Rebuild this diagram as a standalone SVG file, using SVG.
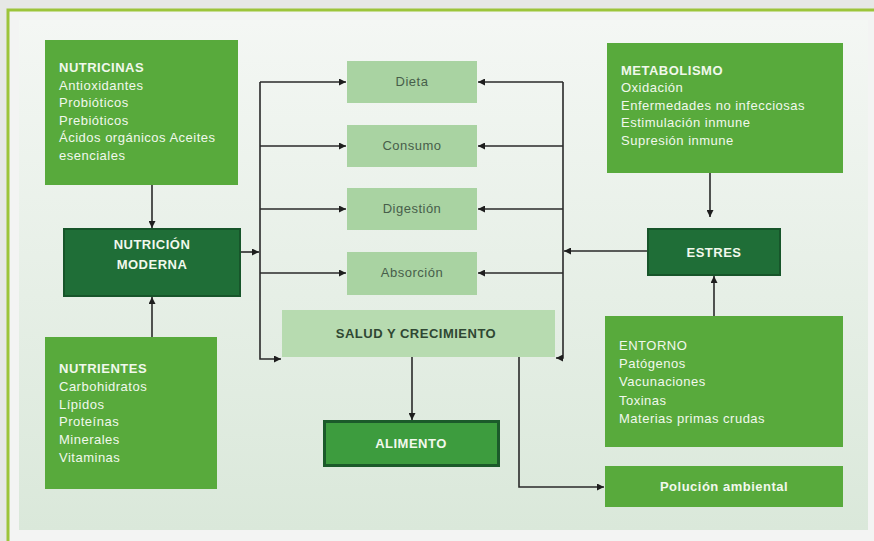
<svg xmlns="http://www.w3.org/2000/svg" width="874" height="541" viewBox="0 0 874 541">
<defs>
<linearGradient id="panel" x1="0" y1="0" x2="0" y2="1">
<stop offset="0" stop-color="#f4f7f4"/>
<stop offset="1" stop-color="#dae8da"/>
</linearGradient>
<marker id="ah" viewBox="0 0 10 10" refX="10" refY="5" markerWidth="7" markerHeight="7" markerUnits="userSpaceOnUse" orient="auto">
<path d="M0,0 L10,5 L0,10 z" fill="#1e1e1e"/>
</marker>
<style>
.g{fill:#58aa3c}
.dk{fill:#1f6e37;stroke:#17552a;stroke-width:2}
.lt{fill:#a9d3a2}
.t{font-family:"Liberation Sans",Arial,sans-serif;font-size:13px;letter-spacing:0.5px}
.w{fill:#f1f8ec}
.b{font-weight:bold}
.m{fill:#475e4a;text-anchor:middle}
.c{text-anchor:middle}
.ln{fill:none;stroke:#2a2a2a;stroke-width:1.6}
</style>
</defs>
<rect x="0" y="0" width="874" height="541" fill="#f3f4f3"/>
<rect x="0" y="0" width="874" height="9" fill="#e6e8e6"/>
<rect x="0" y="0" width="8" height="541" fill="#e6e8e6"/>
<path d="M8,541 V10 H874" fill="none" stroke="#9cc43a" stroke-width="3"/>
<rect x="19" y="20" width="849" height="510" fill="url(#panel)"/>

<g id="connectors">
<line class="ln" x1="152" y1="185" x2="152" y2="228" marker-end="url(#ah)"/>
<line class="ln" x1="152" y1="337" x2="152" y2="297" marker-end="url(#ah)"/>
<line class="ln" x1="240" y1="252" x2="259" y2="252" marker-end="url(#ah)"/>
<polyline class="ln" points="260,82 260,359 281,359" marker-end="url(#ah)"/>
<line class="ln" x1="260" y1="82" x2="346" y2="82" marker-end="url(#ah)"/>
<line class="ln" x1="260" y1="146" x2="346" y2="146" marker-end="url(#ah)"/>
<line class="ln" x1="260" y1="209" x2="346" y2="209" marker-end="url(#ah)"/>
<line class="ln" x1="260" y1="273" x2="346" y2="273" marker-end="url(#ah)"/>
<polyline class="ln" points="563,82 563,358 556,358" marker-end="url(#ah)"/>
<line class="ln" x1="563" y1="82" x2="478" y2="82" marker-end="url(#ah)"/>
<line class="ln" x1="563" y1="146" x2="478" y2="146" marker-end="url(#ah)"/>
<line class="ln" x1="563" y1="209" x2="478" y2="209" marker-end="url(#ah)"/>
<line class="ln" x1="563" y1="273" x2="478" y2="273" marker-end="url(#ah)"/>
<line class="ln" x1="648" y1="251" x2="564" y2="251" marker-end="url(#ah)"/>
<line class="ln" x1="710" y1="173" x2="710" y2="217" marker-end="url(#ah)"/>
<line class="ln" x1="714" y1="316" x2="714" y2="276" marker-end="url(#ah)"/>
<line class="ln" x1="412" y1="357" x2="412" y2="420" marker-end="url(#ah)"/>
<polyline class="ln" points="519,357 519,487 604,487" marker-end="url(#ah)"/>
</g>

<g id="nutricinas">
<rect class="g" x="45" y="40" width="193" height="145"/>
<text class="t w" x="59" y="72"><tspan class="b">NUTRICINAS</tspan><tspan x="59" dy="17.6">Antioxidantes</tspan><tspan x="59" dy="17.6">Probióticos</tspan><tspan x="59" dy="17.6">Prebióticos</tspan><tspan x="59" dy="17.6">Ácidos orgánicos Aceites</tspan><tspan x="59" dy="17.6">esenciales</tspan></text>
</g>

<g id="nutricion-moderna">
<rect class="dk" x="64" y="229" width="176" height="67"/>
<text class="t w b c" x="152" y="249"><tspan x="152" dy="0">NUTRICIÓN</tspan><tspan x="152" dy="20">MODERNA</tspan></text>
</g>

<g id="nutrientes">
<rect class="g" x="45" y="337" width="172" height="152"/>
<text class="t w" x="59" y="373"><tspan class="b">NUTRIENTES</tspan><tspan x="59" dy="17.8">Carbohidratos</tspan><tspan x="59" dy="17.8">Lípidos</tspan><tspan x="59" dy="17.8">Proteínas</tspan><tspan x="59" dy="17.8">Minerales</tspan><tspan x="59" dy="17.8">Vitaminas</tspan></text>
</g>

<g id="dieta">
<rect class="lt" x="347" y="61" width="130" height="42"/>
<text class="t m" x="412" y="86">Dieta</text>
</g>
<g id="consumo">
<rect class="lt" x="347" y="125" width="130" height="42"/>
<text class="t m" x="412" y="150">Consumo</text>
</g>
<g id="digestion">
<rect class="lt" x="347" y="188" width="130" height="42"/>
<text class="t m" x="412" y="213">Digestión</text>
</g>
<g id="absorcion">
<rect class="lt" x="347" y="252" width="130" height="43"/>
<text class="t m" x="412" y="277">Absorción</text>
</g>

<g id="salud">
<rect x="282" y="310" width="273" height="47" fill="#b7dbb0"/>
<text class="t b c" x="416" y="338" fill="#2f4733">SALUD Y CRECIMIENTO</text>
</g>

<g id="alimento">
<rect x="324.5" y="421.5" width="174" height="44" fill="#3d9c3e" stroke="#1b5a2a" stroke-width="3"/>
<text class="t w b c" x="411" y="448">ALIMENTO</text>
</g>

<g id="metabolismo">
<rect class="g" x="607" y="43" width="236" height="130"/>
<text class="t w" x="621" y="75"><tspan class="b">METABOLISMO</tspan><tspan x="621" dy="17.4">Oxidación</tspan><tspan x="621" dy="17.4">Enfermedades no infecciosas</tspan><tspan x="621" dy="17.4">Estimulación inmune</tspan><tspan x="621" dy="17.4">Supresión inmune</tspan></text>
</g>

<g id="estres">
<rect class="dk" x="648" y="229" width="132" height="46"/>
<text class="t w b c" x="714" y="257">ESTRES</text>
</g>

<g id="entorno">
<rect class="g" x="605" y="316" width="238" height="131"/>
<text class="t w" x="619" y="350"><tspan>ENTORNO</tspan><tspan x="619" dy="18.2">Patógenos</tspan><tspan x="619" dy="18.2">Vacunaciones</tspan><tspan x="619" dy="18.2">Toxinas</tspan><tspan x="619" dy="18.2">Materias primas crudas</tspan></text>
</g>

<g id="polucion">
<rect class="g" x="605" y="466" width="238" height="41"/>
<text class="t w b c" x="724" y="491">Polución ambiental</text>
</g>
</svg>
